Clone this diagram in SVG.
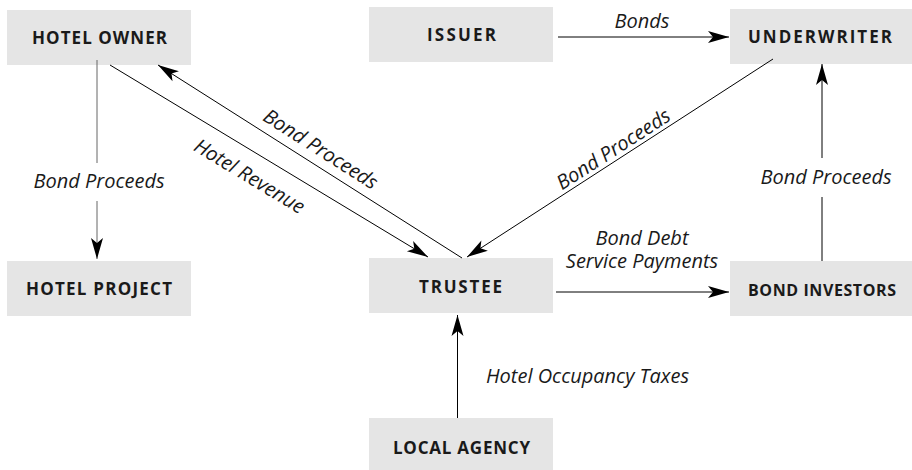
<svg xmlns="http://www.w3.org/2000/svg" width="912" height="470" viewBox="0 0 912 470">
  <defs>
    <marker id="arr" viewBox="-22 -7 24 14" refX="0" refY="0" markerWidth="24" markerHeight="14" markerUnits="userSpaceOnUse" orient="auto">
      <path d="M0,0 L-21,-6 L-16,0 L-21,6 Z" fill="#000"/>
    </marker>
    <style>
      .box { fill: #e5e5e5; }
      .nl { font-family: "Open Sans", "Noto Sans", "DejaVu Sans", sans-serif; font-weight: bold; font-size: 17px; fill: #1a1a1a; text-anchor: middle; }
      .el { font-family: "Open Sans", "Noto Sans", "DejaVu Sans", sans-serif; font-style: italic; font-size: 20px; fill: #1a1a1a; text-anchor: middle; }
      .c { fill: none; stroke: #000; stroke-width: 1; marker-end: url(#arr); }
      .g { stroke: #666; }
    </style>
  </defs>
  <rect width="912" height="470" fill="#fff"/>

  <g id="hotel-owner">
    <rect class="box" x="7" y="10" width="184" height="55"/>
    <text class="nl" x="99.5" y="43.5" textLength="135" lengthAdjust="spacing">HOTEL OWNER</text>
  </g>
  <g id="issuer">
    <rect class="box" x="369" y="7" width="184" height="55"/>
    <text class="nl" x="461.5" y="40.5" textLength="69" lengthAdjust="spacing">ISSUER</text>
  </g>
  <g id="underwriter">
    <rect class="box" x="730" y="9" width="184" height="55"/>
    <text class="nl" x="820" y="42.5" textLength="144" lengthAdjust="spacing">UNDERWRITER</text>
  </g>
  <g id="hotel-project">
    <rect class="box" x="7" y="261" width="184" height="55"/>
    <text class="nl" x="99" y="294.5" textLength="146" lengthAdjust="spacing">HOTEL PROJECT</text>
  </g>
  <g id="trustee">
    <rect class="box" x="369" y="258" width="184" height="55"/>
    <text class="nl" x="460.5" y="292.5" textLength="83" lengthAdjust="spacing">TRUSTEE</text>
  </g>
  <g id="bond-investors">
    <rect class="box" x="730" y="261" width="182" height="55"/>
    <text class="nl" x="822" y="295.5" textLength="148" lengthAdjust="spacing" style="font-size:16px">BOND INVESTORS</text>
  </g>
  <g id="local-agency">
    <rect class="box" x="369" y="418" width="184" height="55"/>
    <text class="nl" x="461.5" y="453.5" textLength="137" lengthAdjust="spacing">LOCAL AGENCY</text>
  </g>

  <g id="connectors">
    <path class="c g" d="M97,60 V163 M97,201 V259"/>
    <text class="el" x="99" y="188">Bond Proceeds</text>

    <path class="c" d="M558,37 H729"/>
    <text class="el" x="642" y="28">Bonds</text>

    <path class="c" d="M773,59 L467,257"/>
    <text class="el" transform="translate(617,155) rotate(-32.9)" x="0" y="0">Bond Proceeds</text>

    <path class="c" d="M462,258 L158,65"/>
    <text class="el" transform="translate(317,155) rotate(32.4)" x="0" y="0">Bond Proceeds</text>

    <path class="c" d="M110,65 L428,257"/>
    <text class="el" transform="translate(246,182) rotate(31.1)" x="0" y="0">Hotel Revenue</text>

    <path class="c" d="M556,292 H729"/>
    <text class="el" x="642" y="245">Bond Debt</text>
    <text class="el" x="642" y="268">Service Payments</text>

    <path class="c" d="M822,261 V197 M822,158 V64"/>
    <text class="el" x="826" y="184">Bond Proceeds</text>

    <path class="c" d="M457.5,418 V315"/>
    <text class="el" x="486" y="383" style="text-anchor:start">Hotel Occupancy Taxes</text>
  </g>
</svg>
